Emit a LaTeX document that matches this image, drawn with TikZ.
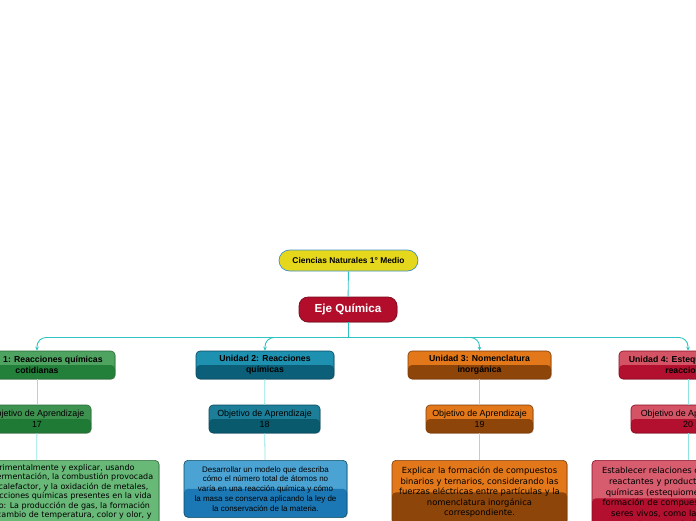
\documentclass[tikz,border=0pt]{standalone}
\usepackage{fontspec}
\setmainfont{Liberation Sans}
\newfontfamily\descfont{DejaVu Sans}
\usetikzlibrary{arrows.meta,shadows}
\definecolor{linkc}{HTML}{2EC4C4}
\definecolor{stemc}{HTML}{8FE3E3}
\definecolor{titlec}{HTML}{E5D81C}
\definecolor{titled}{HTML}{3D8EC9}
\definecolor{ejec}{HTML}{B20D2B}
\definecolor{ejed}{HTML}{7A0A1C}
% green branch
\definecolor{gA}{HTML}{4FA360}\definecolor{gB}{HTML}{23803A}
\definecolor{gC}{HTML}{3E9250}\definecolor{gE}{HTML}{1E7A35}
\definecolor{gF}{HTML}{68B878}\definecolor{gG}{HTML}{3A9C52}
\definecolor{gD}{HTML}{2A6A38}
% blue branch
\definecolor{bA}{HTML}{1E90B0}\definecolor{bB}{HTML}{0B5F78}
\definecolor{bC}{HTML}{1C7E98}\definecolor{bE}{HTML}{0A5A6E}
\definecolor{bF}{HTML}{4BA3D3}\definecolor{bG}{HTML}{1B78B5}
\definecolor{bD}{HTML}{0A4A60}
% orange branch
\definecolor{oA}{HTML}{E3781A}\definecolor{oB}{HTML}{8E450A}
\definecolor{oD}{HTML}{7A3A08}
% red branch
\definecolor{rA}{HTML}{D45466}\definecolor{rB}{HTML}{B2102E}
\definecolor{rF}{HTML}{D65C6E}
\definecolor{rD}{HTML}{8A0A20}
\begin{document}
\begin{tikzpicture}[x=1pt, y=-1pt,
    link/.style={draw=linkc, line width=0.9pt},
    stem/.style={draw=stemc, line width=0.8pt},
    tip/.style={-{Stealth[length=4pt, width=3.6pt]}},
    twotone/.style 2 args={fill=#1, path picture={\fill[#2] (path picture bounding box.west) rectangle (path picture bounding box.south east);}},
    box/.style={rounded corners=4pt, line width=0.6pt, align=center, inner sep=2pt,
        drop shadow={shadow xshift=0.8pt, shadow yshift=-0.8pt, opacity=0.3}},
    unit/.style={box, minimum height=28, font=\bfseries\fontsize{8.7}{11}\selectfont},
    goal/.style={box, minimum height=28, font=\fontsize{8.9}{11.5}\selectfont},
    desc/.style={box, anchor=north, inner sep=4pt}
]
    \useasboundingbox (0,0) rectangle (696,520);
    \clip (0,0) rectangle (696,520);
    % Root
    \node[draw=titled, fill=titlec, line width=0.7pt, rounded corners=10.5pt,
        minimum width=139, minimum height=21, font=\bfseries\fontsize{8.4}{10}\selectfont]
        (title) at (348.5,260.5) {Ciencias Naturales 1° Medio};
    \node[draw=ejed, fill=ejec, text=white, line width=0.7pt, rounded corners=9pt,
        minimum width=98, minimum height=25, font=\bfseries\fontsize{11.7}{13}\selectfont,
        drop shadow={shadow xshift=0.8pt, shadow yshift=-0.8pt, opacity=0.3}]
        (eje) at (348,309.5) {Eje Química};
    \coordinate (hub) at (348,337.5);
    % Units
    \node[unit, draw=gD, twotone={gA}{gB}, minimum width=156] (u1) at (37,365)
        {Unidad 1: Reacciones químicas\\cotidianas};
    \node[unit, draw=bD, twotone={bA}{bB}, minimum width=138] (u2) at (265,365)
        {Unidad 2: Reacciones\\químicas};
    \node[unit, draw=oD, twotone={oA}{oB}, minimum width=143] (u3) at (479.5,365)
        {Unidad 3: Nomenclatura\\inorgánica};
    \node[unit, draw=rD, twotone={rA}{rB}, minimum width=138] (u4) at (688,365)
        {Unidad 4: Estequiometría de\\reacciones};
    % Learning goals
    \node[goal, draw=gD, twotone={gC}{gE}, minimum width=108] (o1) at (37,419)
        {Objetivo de Aprendizaje\\17};
    \node[goal, draw=bD, twotone={bC}{bE}, minimum width=111] (o2) at (264.5,419)
        {Objetivo de Aprendizaje\\18};
    \node[goal, draw=oD, twotone={oA}{oB}, minimum width=107] (o3) at (479.5,419)
        {Objetivo de Aprendizaje\\19};
    \node[goal, draw=rD, twotone={rA}{rB}, minimum width=114] (o4) at (688,419)
        {Objetivo de Aprendizaje\\20};
    % Descriptions
    \node[desc, draw=gD, twotone={gF}{gG}, minimum width=246, text depth=98pt,
        font=\descfont\fontsize{8}{9.5}\selectfont] (d1) at (36,460)
        {Investigar experimentalmente y explicar, usando\\
         evidencias, que la fermentación, la combustión provocada\\
         por un motor y un calefactor, y la oxidación de metales,\\
         entre otras, son reacciones químicas presentes en la vida\\
         diaria, considerando: La producción de gas, la formación\\
         de precipitados, el cambio de temperatura, color y olor, y};
    \node[desc, draw=bD, twotone={bF}{bG}, minimum width=163, minimum height=57,
        font=\fontsize{8}{9.8}\selectfont] (d2) at (265.5,460)
        {Desarrollar un modelo que describa\\
         cómo el número total de átomos no\\
         varía en una reacción química y cómo\\
         la masa se conserva aplicando la ley de\\
         la conservación de la materia.};
    \node[desc, draw=oD, twotone={oA}{oB}, minimum width=175, minimum height=64,
        font=\descfont\fontsize{8.4}{10.5}\selectfont] (d3) at (479.5,460)
        {Explicar la formación de compuestos\\
         binarios y ternarios, considerando las\\
         fuerzas eléctricas entre partículas y la\\
         nomenclatura inorgánica\\
         correspondiente.};
    \node[desc, draw=rD, twotone={rF}{rB}, minimum width=192, minimum height=76,
        font=\descfont\fontsize{8.4}{10.7}\selectfont] (d4) at (688,460)
        {Establecer relaciones cuantitativas entre\\
         reactantes y productos en reacciones\\
         químicas (estequiometría) y explicar la\\
         formación de compuestos útiles para los\\
         seres vivos, como la formación de la\\
         glucosa en la fotosíntesis.};
    % Connectors
    \draw[link] (title) -- (eje);
    \draw[link] (eje) -- (hub);
    \draw[link, tip, rounded corners=9pt] (hub) -| (u1.north);
    \draw[link, tip, rounded corners=9pt] (hub) -| (u2.north);
    \draw[link, tip, rounded corners=9pt] (hub) -| (u3.north);
    \draw[link, tip, rounded corners=9pt] (hub) -| (u4.north);
    \foreach \k in {1,2,3,4} {
        \draw[stem] (u\k) -- (o\k);
        \draw[stem] (o\k) -- (d\k);
    }
\end{tikzpicture}
\end{document}
